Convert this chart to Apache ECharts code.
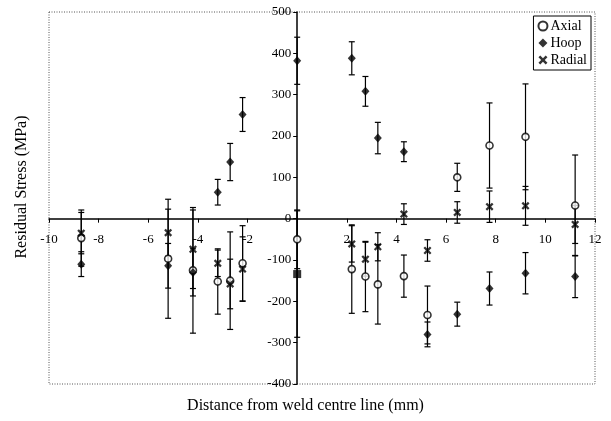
<!DOCTYPE html>
<html>
<head>
<meta charset="utf-8">
<title>Residual stress</title>
<script src="https://cdn.jsdelivr.net/npm/echarts@6/dist/echarts.min.js"></script>
<style>
  html, body { margin: 0; padding: 0; background: #fff; }
  #main { width: 611px; height: 421px; }
</style>
</head>
<body>
<div id="main"></div>
<script>
// distance from weld centre line (mm)
const axialX  = [-8.7, -5.2, -4.2, -3.2, -2.7, -2.2, 0, 2.2, 2.75, 3.25, 4.3, 5.25, 6.45, 7.75, 9.2, 11.2];
const axialY  = [-47, -97, -125, -152, -150, -108, -50, -122, -140, -159, -139, -233, 100, 177, 198, 32];
const axialErr = [68, 144, 152, 79, 118, 91, 71, 107, 85, 96, 51, 70, 34, 103, 128, 122];

const hoopX   = [-8.7, -5.2, -4.2, -3.2, -2.7, -2.2, 0, 2.2, 2.75, 3.25, 4.3, 5.25, 6.45, 7.75, 9.2, 11.2];
const hoopY   = [-110, -114, -130, 64, 137, 252, 382, 388, 308, 195, 162, -280, -231, -169, -132, -140];
const hoopErr = [30, 54, 57, 31, 45, 41, 57, 40, 36, 38, 24, 30, 29, 40, 50, 51];

const radialX   = [-8.7, -5.2, -4.2, -3.2, -2.7, -2.2, 2.2, 2.75, 3.25, 4.3, 5.25, 6.45, 7.75, 9.2, 11.2];
const radialY   = [-35, -34, -74, -108, -158, -122, -61, -98, -68, 11, -77, 15, 29, 31, -14];
const radialErr = [50, 57, 95, 32, 60, 78, 44, 41, 34, 25, 26, 26, 38, 47, 46];

// the filled square on the centre line
const squareX = [0];
const squareY = [-134];
const squareErr = [153];

// axis ranges / tick steps
const xMin = -10, xMax = 12, xStep = 2;
const yMin = -400, yMax = 500, yStep = 100;

const FONT = '"Liberation Serif", "DejaVu Serif", serif';
const crossPath = 'path://M0,2L2,0L5,3L8,0L10,2L7,5L10,8L8,10L5,7L2,10L0,8L3,5Z';

// plot box
const G = {left: 49, right: 16, top: 12, bottom: 37};
const W = 611, H = 421;
const plotW = W - G.left - G.right;
const plotH = H - G.top - G.bottom;

// axes cross at zero: shift them in from the grid edges (labels do not follow onZero here)
const xAxisShift = -(0 - yMin) / (yMax - yMin) * plotH;
const yAxisShift = -(0 - xMin) / (xMax - xMin) * plotW;

const chart = echarts.init(document.getElementById('main'), null, {renderer: 'canvas'});

// vertical error bar with small caps
function errorBars(xs, ys, errs) {
    return {
        type: 'custom',
        silent: true,
        z: 1,
        data: xs.map((x, i) => [x, ys[i] - errs[i], ys[i] + errs[i]]),
        encode: {x: 0, y: [1, 2]},
        renderItem: function (params, api) {
            const lo = api.coord([api.value(0), api.value(1)]);
            const hi = api.coord([api.value(0), api.value(2)]);
            const w = 3;
            const st = {stroke: '#000', lineWidth: 1.2};
            return {
                type: 'group',
                children: [
                    {type: 'line', shape: {x1: lo[0], y1: lo[1], x2: hi[0], y2: hi[1]}, style: st},
                    {type: 'line', shape: {x1: lo[0] - w, y1: lo[1], x2: lo[0] + w, y2: lo[1]}, style: st},
                    {type: 'line', shape: {x1: hi[0] - w, y1: hi[1], x2: hi[0] + w, y2: hi[1]}, style: st}
                ]
            };
        }
    };
}

function pairs(xs, ys) {
    return xs.map((x, i) => [x, ys[i]]);
}

const option = {
    animation: false,
    backgroundColor: '#fff',
    textStyle: {fontFamily: FONT, color: '#000'},
    grid: G,
    legend: {
        data: ['Axial', 'Hoop', 'Radial'],
        orient: 'vertical',
        right: 20,
        top: 16,
        padding: [3, 4, 3, 4],
        itemGap: 3,
        itemWidth: 9,
        itemHeight: 9,
        backgroundColor: '#fff',
        borderColor: '#000',
        borderWidth: 1,
        borderRadius: 0,
        textStyle: {fontFamily: FONT, fontSize: 14, color: '#000', padding: [0, 0, 0, -2]}
    },
    xAxis: {
        type: 'value', min: xMin, max: xMax, interval: xStep,
        position: 'bottom', offset: xAxisShift,
        axisLine: {onZero: false, lineStyle: {color: '#000', width: 1.5}},
        axisTick: {show: true, length: 4, lineStyle: {color: '#000'}},
        axisLabel: {
            fontFamily: FONT, fontSize: 13, color: '#000', margin: 14,
            formatter: v => (v === 0 ? '' : String(v))
        },
        splitLine: {show: false}
    },
    yAxis: {
        type: 'value', min: yMin, max: yMax, interval: yStep,
        position: 'left', offset: yAxisShift,
        axisLine: {onZero: false, lineStyle: {color: '#000', width: 1.5}},
        axisTick: {show: true, length: 4, lineStyle: {color: '#000'}},
        axisLabel: {fontFamily: FONT, fontSize: 13, color: '#000', margin: 6},
        splitLine: {show: false}
    },
    graphic: [
        {   // dotted frame round the plot
            type: 'rect', z: 0, silent: true,
            shape: {x: G.left, y: G.top, width: plotW, height: plotH},
            style: {fill: null, stroke: '#555', lineWidth: 1, lineDash: [1, 1.5]}
        },
        {
            type: 'text', left: 'center', top: 398,
            style: {text: 'Distance from weld centre line (mm)', font: '16px ' + FONT, fill: '#000'}
        },
        {
            type: 'text', rotation: Math.PI / 2, x: 22, y: 187,
            style: {text: 'Residual Stress (MPa)', font: '16px ' + FONT, fill: '#000',
                    align: 'center', verticalAlign: 'middle'}
        }
    ],
    series: [
        errorBars(axialX, axialY, axialErr),
        errorBars(hoopX, hoopY, hoopErr),
        errorBars(radialX, radialY, radialErr),
        errorBars(squareX, squareY, squareErr),
        {
            name: 'Axial', type: 'scatter', z: 3,
            data: pairs(axialX, axialY),
            symbol: 'circle', symbolSize: 7,
            itemStyle: {color: '#fff', borderColor: '#000', borderWidth: 1.6}
        },
        {
            name: 'Hoop', type: 'scatter', z: 3,
            data: pairs(hoopX, hoopY),
            symbol: 'diamond', symbolSize: [8, 9],
            itemStyle: {color: '#000'}
        },
        {
            name: 'Radial', type: 'scatter', z: 3,
            data: pairs(radialX, radialY),
            symbol: crossPath, symbolSize: 8,
            itemStyle: {color: '#000'}
        },
        {
            name: 'centre', type: 'scatter', z: 3,
            data: pairs(squareX, squareY),
            symbol: 'rect', symbolSize: 8,
            itemStyle: {color: '#000'}
        }
    ]
};

chart.setOption(option);
</script>
</body>
</html>
